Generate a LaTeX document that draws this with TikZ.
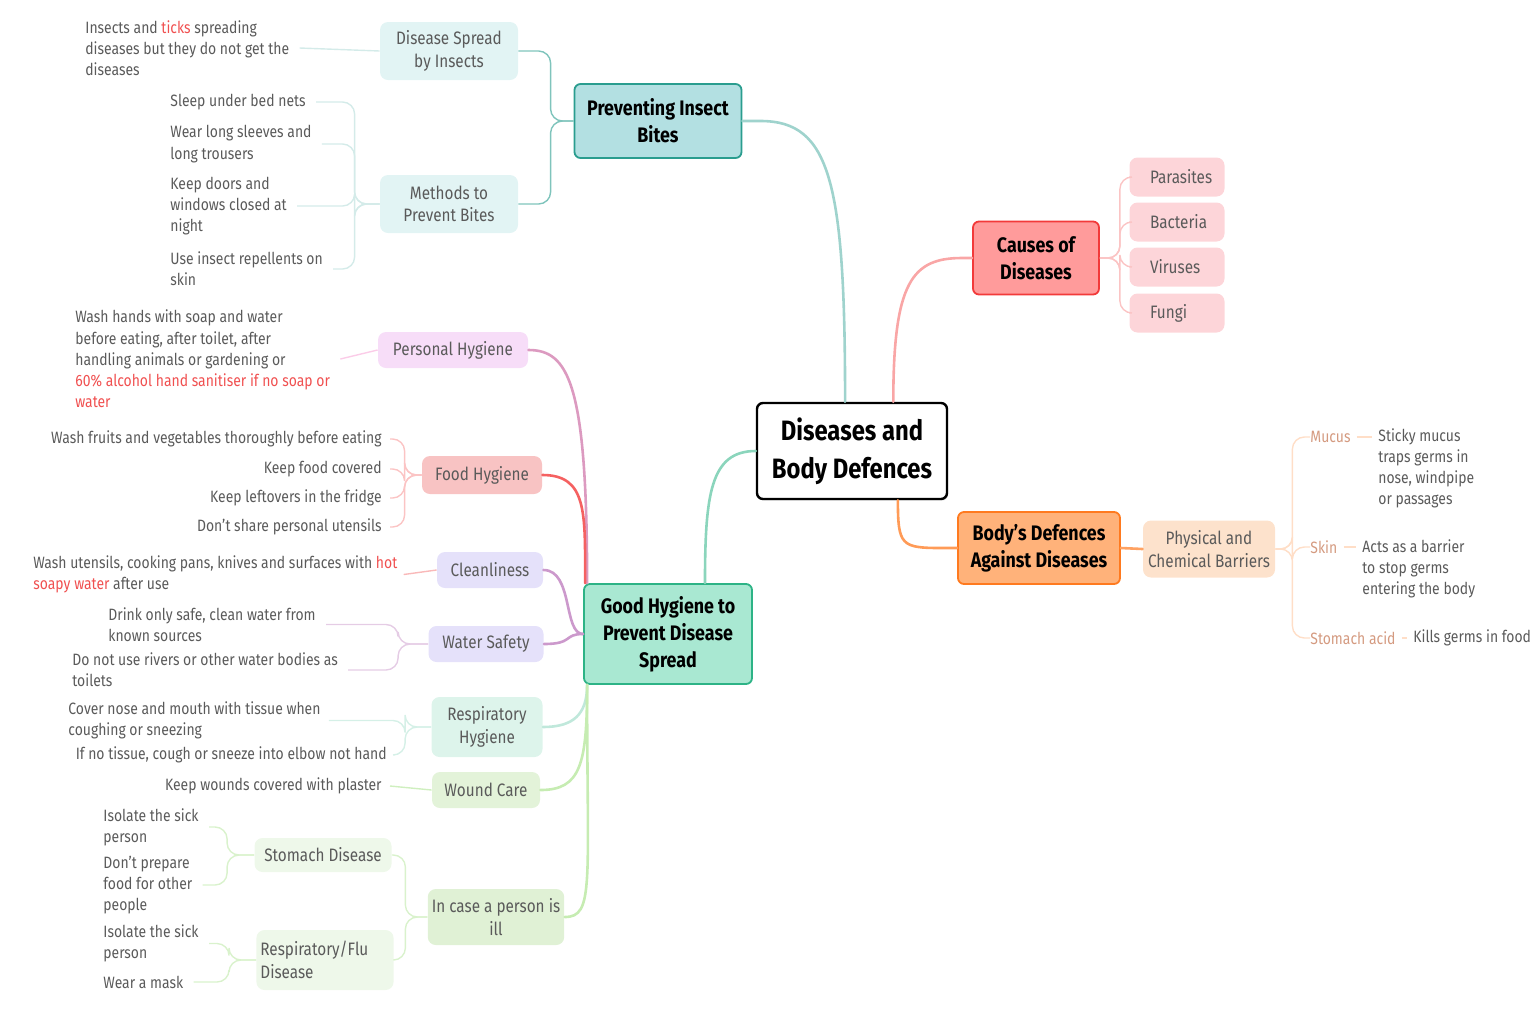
\documentclass[tikz,border=0pt]{standalone}
\usepackage{fontspec}
\setmainfont{Fira Sans}[FakeStretch=0.85]
\usetikzlibrary{shadows}

\definecolor{tealD}{HTML}{2A9D8F}
\definecolor{tealF}{HTML}{B3E0E2}
\definecolor{redD}{HTML}{F23A3A}
\definecolor{redF}{HTML}{FF9B9B}
\definecolor{orangeD}{HTML}{FF7A1F}
\definecolor{orangeF}{HTML}{FFB27A}
\definecolor{greenD}{HTML}{2DB386}
\definecolor{greenF}{HTML}{A9E8D2}
\definecolor{leafgray}{HTML}{5A5A5A}
\definecolor{hot}{HTML}{F05050}
\definecolor{spreadF}{HTML}{E2F4F4}
\definecolor{personalF}{HTML}{F7DDF8}
\definecolor{foodF}{HTML}{F8C3C3}
\definecolor{cleanF}{HTML}{E5E1FA}
\definecolor{respF}{HTML}{DDF4EB}
\definecolor{woundF}{HTML}{E3F3D9}
\definecolor{illF}{HTML}{E0F1D5}
\definecolor{stomachF}{HTML}{EEF8EA}
\definecolor{causeF}{HTML}{FDD5D9}
\definecolor{barrierF}{HTML}{FDE2CC}
\definecolor{mucusC}{HTML}{D49A80}

\begin{document}
\begin{tikzpicture}[x=0.5pt,y=-0.5pt,
    every node/.style={inner sep=2pt,align=center},
    root/.style={draw=black,line width=1.2pt,fill=white,rounded corners=3pt,
        minimum width=95pt,minimum height=48pt,
        drop shadow={opacity=0.2,shadow xshift=0.6pt,shadow yshift=-0.8pt},
        font=\fontsize{14}{19.2}\selectfont\bfseries},
    topic/.style={rounded corners=3pt,line width=0.9pt,
        font=\fontsize{10.5}{13.4}\selectfont\bfseries},
    sub/.style={rounded corners=4pt,text=leafgray,
        font=\fontsize{9}{11.2}\selectfont},
    cause/.style={sub,fill=causeF,minimum width=47.5pt,minimum height=19.5pt,
        text width=27pt,align=left},
    leaf/.style={align=left,inner sep=0pt,text=leafgray,
        font=\fontsize{8.2}{10.6}\selectfont},
    rleaf/.style={leaf,align=right,anchor=east},
    branch/.style={line width=1.3pt,line cap=round},
    twig/.style={line width=0.7pt,rounded corners=6pt}]
\useasboundingbox (0,0) rectangle (1536,1024);

% main topics
\node[root] (centre) at (852,451) {Diseases and\\Body Defences};
\node[topic,draw=tealD,fill=tealF,minimum width=83.5pt,minimum height=37pt] (bites) at (658,121) {Preventing Insect\\Bites};
\node[topic,draw=redD,fill=redF,minimum width=63pt,minimum height=36.5pt] (causes) at (1036,258) {Causes of\\Diseases};
\node[topic,draw=orangeD,fill=orangeF,minimum width=81pt,minimum height=36pt] (defences) at (1039,548) {Body’s Defences\\Against Diseases};
\node[topic,draw=greenD,fill=greenF,minimum width=84pt,minimum height=50pt] (hygiene) at (668,634) {Good Hygiene to\\Prevent Disease\\Spread};

\draw[branch,color=tealD!45] (centre.98) .. controls +(0,-220) and +(70,0) .. ([xshift=9pt]bites.east) -- (bites.east);
\draw[branch,color=redD!45] (centre.50) .. controls +(0,-120) and +(-50,0) .. ([xshift=-5pt]causes.west) -- (causes.west);
\draw[branch,color=greenD!55] (centre.west) .. controls +(-45,0) and +(0,-90) .. (hygiene.54);
\draw[branch,color=orangeD!75] (centre.-47) .. controls +(0,45) and +(-40,0) .. ([xshift=-8pt]defences.west) -- (defences.west);

% insect bites
\node[sub,fill=spreadF,minimum width=69pt,minimum height=29pt] (spread) at (449,51) {Disease Spread\\by Insects};
\node[sub,fill=spreadF,minimum width=69pt,minimum height=29pt] (methods) at (449,204) {Methods to\\Prevent Bites};
\node[leaf,anchor=west] (insects) at (85,48) {Insects and \textcolor{hot}{ticks} spreading\\diseases but they do not get the\\diseases};
\node[leaf,anchor=west] (sleep) at (170,102) {Sleep under bed nets};
\node[leaf,anchor=west] (sleeves) at (170,144) {Wear long sleeves and\\long trousers};
\node[leaf,anchor=west] (doors) at (170,206) {Keep doors and\\windows closed at\\night};
\node[leaf,anchor=west] (repel) at (170,269) {Use insect repellents on\\skin};

\draw[twig,tealD!60] (bites.west) -- ++(-23,0) |- (spread.east);
\draw[twig,tealD!60] (bites.west) -- ++(-23,0) |- (methods.east);
\draw[twig,tealD!20] (spread.west) -- ([xshift=5pt]insects.east);
\draw[twig,tealD!20] (methods.west) -- ++(-25,0) |- ([xshift=5pt]sleep.east);
\draw[twig,tealD!20] (methods.west) -- ++(-25,0) |- ([xshift=5pt]sleeves.east);
\draw[twig,tealD!20] (methods.west) -- ++(-25,0) |- ([xshift=5pt]doors.east);
\draw[twig,tealD!20] (methods.west) -- ++(-25,0) |- ([xshift=5pt]repel.east);

% causes
\node[cause] (parasites) at (1177,177) {Parasites};
\node[cause] (bacteria) at (1177,222) {Bacteria};
\node[cause] (viruses) at (1177,267) {Viruses};
\node[cause] (fungi) at (1177,313) {Fungi};
\foreach \c in {parasites,bacteria,viruses,fungi}
  \draw[twig,redD!30] (causes.east) -- ++(20,0) |- (\c.west);

% body defences
\node[sub,fill=barrierF,minimum width=66pt,minimum height=28.5pt] (barriers) at (1209,549) {Physical and\\Chemical Barriers};
\node[leaf,anchor=west,text=mucusC] (mucus) at (1310,437) {Mucus};
\node[leaf,anchor=west,text=mucusC] (skin) at (1310,547) {Skin};
\node[leaf,anchor=west,text=mucusC] (acid) at (1310,638) {Stomach acid};
\node[leaf,anchor=north west] (sticky) at (1378,428) {Sticky mucus\\traps germs in\\nose, windpipe\\or passages};
\node[leaf,anchor=north west] (acts) at (1362,539) {Acts as a barrier\\to stop germs\\entering the body};
\node[leaf,anchor=west] (kills) at (1413,638) {Kills germs in food};

\draw[branch,orangeD!70] (defences.east) -- (barriers.west);
\foreach \c in {mucus,skin,acid}
  \draw[twig,orangeD!25] (barriers.east) -- ++(17,0) |- (\c.west);
\draw[twig,orangeD!25,shorten <=3pt,shorten >=3pt] (mucus.east) -- (mucus.east -| sticky.west);
\draw[twig,orangeD!25,shorten <=3pt,shorten >=3pt] (skin.east) -- (skin.east -| acts.west);
\draw[twig,orangeD!25,shorten <=3pt,shorten >=3pt] (acid.east) -- (kills.west);

% good hygiene
\node[sub,fill=personalF,minimum width=75pt,minimum height=18pt] (personal) at (453,350) {Personal Hygiene};
\node[sub,fill=foodF,minimum width=60pt,minimum height=19pt] (food) at (482,475) {Food Hygiene};
\node[sub,fill=cleanF,minimum width=53pt,minimum height=18pt] (clean) at (490,570) {Cleanliness};
\node[sub,fill=cleanF,minimum width=57.5pt,minimum height=18pt] (water) at (486,644) {Water Safety};
\node[sub,fill=respF,minimum width=55.5pt,minimum height=30pt] (resp) at (487,727) {Respiratory\\Hygiene};
\node[sub,fill=woundF,minimum width=54pt,minimum height=18pt] (wound) at (486,790) {Wound Care};
\node[sub,fill=illF,minimum width=64pt,minimum height=28pt] (ill) at (496,917) {In case a person is\\ill};
\node[sub,fill=stomachF,minimum width=68.5pt,minimum height=17pt] (stomach) at (323,855) {Stomach Disease};
\node[sub,fill=stomachF,minimum width=68.5pt,minimum height=30pt,align=left] (flu) at (325,960) {Respiratory/Flu\\Disease\hspace*{38pt}};

\node[leaf,anchor=west] (hands) at (75,359) {Wash hands with soap and water\\before eating, after toilet, after\\handling animals or gardening or\\\textcolor{hot}{60\% alcohol hand sanitiser if no soap or}\\\textcolor{hot}{water}};
\node[rleaf] (wash) at (382,439) {Wash fruits and vegetables thoroughly before eating};
\node[rleaf] (covered) at (382,469) {Keep food covered};
\node[rleaf] (fridge) at (382,498) {Keep leftovers in the fridge};
\node[rleaf] (utensils) at (382,527) {Don’t share personal utensils};
\node[leaf,anchor=west] (pans) at (33,574.5) {Wash utensils, cooking pans, knives and surfaces with \textcolor{hot}{hot}\\\textcolor{hot}{soapy water} after use};
\node[leaf,anchor=west] (drink) at (108,624.5) {Drink only safe, clean water from\\known sources};
\node[leaf,anchor=west] (rivers) at (72,670) {Do not use rivers or other water bodies as\\toilets};
\node[leaf,anchor=west] (cover) at (68,720.5) {Cover nose and mouth with tissue when\\coughing or sneezing};
\node[rleaf] (elbow) at (387,755) {If no tissue, cough or sneeze into elbow not hand};
\node[rleaf] (plaster) at (382,786) {Keep wounds covered with plaster};
\node[leaf,anchor=west] (isolate) at (103,827) {Isolate the sick\\person};
\node[leaf,anchor=west] (prepare) at (103,885) {Don’t prepare\\food for other\\people};
\node[leaf,anchor=west] (isolateb) at (103,943.5) {Isolate the sick\\person};
\node[leaf,anchor=west] (mask) at (103,982) {Wear a mask};

\draw[branch,color=magenta!40!violet!45] ([xshift=2pt]hygiene.north west) .. controls +(0,-200) and +(40,0) .. (personal.east);
\draw[branch,color=redD!80] ([xshift=1pt]hygiene.north west) .. controls +(0,-70) and +(45,0) .. (food.east);
\draw[branch,color=violet!40] (hygiene.west) .. controls +(-20,0) and +(30,0) .. (clean.east);
\draw[branch,color=violet!40] (hygiene.west) .. controls +(-20,0) and +(30,0) .. (water.east);
\draw[branch,color=greenD!30] ([xshift=2pt]hygiene.south west) .. controls +(0,30) and +(30,0) .. (resp.east);
\draw[branch,color=green!50!olive!30] ([xshift=2pt]hygiene.south west) .. controls +(0,80) and +(40,0) .. (wound.east);
\draw[branch,color=green!50!olive!30] ([xshift=2pt]hygiene.south west) .. controls +(0,200) and +(30,0) .. (ill.east);

\draw[twig,magenta!20] (personal.west) -- ([xshift=5pt]hands.east);
\foreach \c in {wash,covered,fridge,utensils}
  \draw[twig,redD!30] (food.west) -- ++(-17,0) |- ([xshift=4pt]\c.east);
\draw[twig,hot!40] (clean.west) -- ([xshift=3pt]pans.east);
\foreach \c in {drink,rivers}
  \draw[twig,violet!20] (water.west) -- ++(-30,0) |- ([xshift=5pt]\c.east);
\foreach \c in {cover,elbow}
  \draw[twig,greenD!20] (resp.west) -- ++(-26,0) |- ([xshift=4pt]\c.east);
\draw[twig,green!50!olive!25] (wound.west) -- ([xshift=4pt]plaster.east);
\foreach \c in {stomach,flu}
  \draw[twig,green!50!olive!20] (ill.west) -- ++(-22,0) |- (\c.east);
\foreach \c in {isolate,prepare}
  \draw[twig,green!50!olive!20] (stomach.west) -- ++(-27,0) |- ([xshift=5pt]\c.east);
\foreach \c in {isolateb,mask}
  \draw[twig,green!50!olive!20] (flu.west) -- ++(-27,0) |- ([xshift=5pt]\c.east);
\end{tikzpicture}
\end{document}
